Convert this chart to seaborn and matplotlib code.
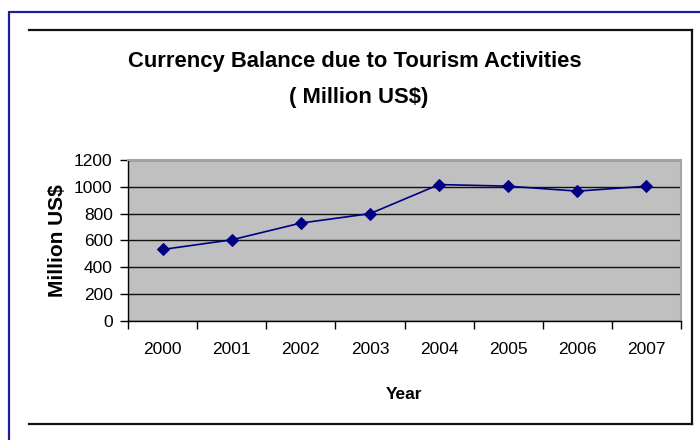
import numpy as np
import pandas as pd
import matplotlib
matplotlib.use('Agg')
import matplotlib.pyplot as plt
from matplotlib.lines import Line2D
from matplotlib.ticker import MultipleLocator
import seaborn as sns

# --- Data ---
YEARS = [2000, 2001, 2002, 2003, 2004, 2005, 2006, 2007]
BALANCE = [533, 605, 730, 800, 1017, 1005, 968, 1005]
Y_TICKS = [0, 200, 400, 600, 800, 1000, 1200]

TITLE_1 = 'Currency Balance due to Tourism Activities'
TITLE_2 = '( Million US$)'
X_LABEL = 'Year'
Y_LABEL = 'Million US$'

# --- Style ---
W, H = 700, 440
PLOT_BG = '#C0C0C0'
LINE_COLOR = '#000080'
FRAME_BLUE = '#1f1f9c'

sns.set_theme(style='white')
plt.rcParams['font.family'] = ['Liberation Sans', 'DejaVu Sans']
plt.rcParams['text.color'] = 'black'


def px(x, y):
    """Pixel position (from top-left) to figure fraction."""
    return x / W, 1 - y / H


df = pd.DataFrame({'Year': YEARS, 'Balance': BALANCE})

fig = plt.figure(figsize=(W / 100, H / 100), dpi=100)
fig.patch.set_facecolor('white')

# plot area: x 128..681, y 160..321 in pixels
left, top = px(128, 160)
right, bottom = px(681, 321)
ax = fig.add_axes([left, bottom, right - left, top - bottom])
ax.set_facecolor(PLOT_BG)

sns.lineplot(data=df, x='Year', y='Balance', ax=ax, color=LINE_COLOR,
             linewidth=1.2, marker='D', markersize=6.5,
             markerfacecolor=LINE_COLOR, markeredgecolor=LINE_COLOR)

ax.set_xlim(YEARS[0] - 0.5, YEARS[-1] + 0.5)
ax.set_ylim(Y_TICKS[0], Y_TICKS[-1])
ax.set_yticks(Y_TICKS)
ax.set_xticks(YEARS)
ax.set_xticklabels([str(y) for y in YEARS])
ax.xaxis.set_minor_locator(MultipleLocator(1, offset=0.5))

ax.tick_params(axis='x', which='major', bottom=True, length=0, pad=15,
               labelsize=12.5, labelcolor='black')
ax.tick_params(axis='x', which='minor', bottom=True, length=6, width=1,
               direction='out', color='black')
ax.tick_params(axis='y', which='major', left=True, length=6, width=1,
               direction='out', color='black', pad=5, labelsize=12.5,
               labelcolor='black')

ax.set_axisbelow(True)
ax.yaxis.grid(True, color='#111111', linewidth=1)
ax.xaxis.grid(False)

for side in ['left', 'bottom']:
    ax.spines[side].set_color('black')
    ax.spines[side].set_linewidth(1)
for side in ['top', 'right']:
    ax.spines[side].set_color('#a4a4a4')
    ax.spines[side].set_linewidth(1.5)

ax.set_xlabel(X_LABEL, fontsize=12.5, fontweight='bold', color='black')
ax.set_ylabel(Y_LABEL, fontsize=15, fontweight='bold', color='black')
ax.xaxis.set_label_coords(0.5, (321 - 387) / 161)
ax.yaxis.set_label_coords((67 - 128) / 553, 0.5)

# title, two centred lines
tx, ty = px(355, 61)
fig.text(tx, ty, TITLE_1, ha='center', va='center', fontsize=15.8,
         fontweight='bold', color='black')
tx, ty = px(359, 98)
fig.text(tx, ty, TITLE_2, ha='center', va='center', fontsize=15.8,
         fontweight='bold', color='black')

# outer blue frame (runs off the right and bottom edges)
for (x0, y0), (x1, y1) in [((8.5, 12), (W + 5, 12)), ((8.5, 12), (8.5, H + 5))]:
    a, b = px(x0, y0)
    c, d = px(x1, y1)
    fig.add_artist(Line2D([a, c], [b, d], transform=fig.transFigure,
                          color=FRAME_BLUE, linewidth=1.6))

# inner black frame: top, right and bottom edges
for (x0, y0), (x1, y1) in [((29, 30), (692, 30)), ((692, 30), (692, 424)),
                           ((29, 424), (692, 424))]:
    a, b = px(x0, y0)
    c, d = px(x1, y1)
    fig.add_artist(Line2D([a, c], [b, d], transform=fig.transFigure,
                          color='#111111', linewidth=1.6, solid_capstyle='projecting'))

fig.savefig('out.png', dpi=100, facecolor='white')
